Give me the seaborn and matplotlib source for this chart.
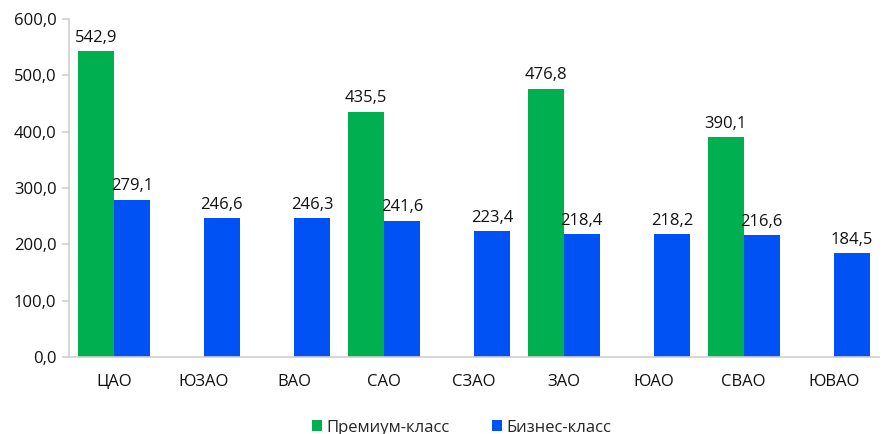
import numpy as np
import pandas as pd
import matplotlib
matplotlib.use("Agg")
import matplotlib.pyplot as plt
import seaborn as sns

districts = ["ЦАО", "ЮЗАО", "ВАО", "САО", "СЗАО", "ЗАО", "ЮАО", "СВАО", "ЮВАО"]
premium = [542.9, np.nan, np.nan, 435.5, np.nan, 476.8, np.nan, 390.1, np.nan]
business = [279.1, 246.6, 246.3, 241.6, 223.4, 218.4, 218.2, 216.6, 184.5]
series = ["Премиум-класс", "Бизнес-класс"]
colors = ["#00B050", "#0052F5"]

df = pd.DataFrame({
    "district": districts * 2,
    "series": [series[0]] * len(districts) + [series[1]] * len(districts),
    "value": premium + business,
})

sns.set_theme(style="white")
plt.rcParams["font.family"] = ["Open Sans", "DejaVu Sans"]

fig = plt.figure(figsize=(8.84, 4.34), dpi=100)
ax = fig.add_axes([0.078, 0.177, 0.916, 0.779])

sns.barplot(data=df, x="district", y="value", hue="series", order=districts,
            hue_order=series, palette=colors, width=0.8, saturation=1,
            edgecolor="none", ax=ax)

fs = 12
fmt = lambda v: f"{v:.1f}".replace(".", ",")
for cont in ax.containers:
    labels = [fmt(b.get_height()) if not np.isnan(b.get_height()) else "" for b in cont]
    ax.bar_label(cont, labels=labels, padding=4, fontsize=fs, color="#111111")

ax.set_ylim(0, 600)
ax.set_yticks(range(0, 601, 100))
ax.set_yticklabels([fmt(v) for v in range(0, 601, 100)], fontsize=fs, color="#111111")
ax.set_xlim(-0.5, len(districts) - 0.5)
ax.set_xticks(np.arange(len(districts)))
ax.set_xticklabels(districts, fontsize=fs, color="#111111")
ax.tick_params(axis="x", length=0, pad=12)
ax.set_xticks(np.arange(len(districts) + 1) - 0.5, minor=True)
ax.tick_params(axis="x", which="minor", length=5, color="#d0d0d0", width=1.2)
ax.tick_params(axis="y", length=5, color="#d0d0d0", width=1.2, direction="out", left=True, pad=4)
ax.set_xlabel("")
ax.set_ylabel("")

for side in ["top", "right"]:
    ax.spines[side].set_visible(False)
for side in ["left", "bottom"]:
    ax.spines[side].set_color("#d0d0d0")
    ax.spines[side].set_linewidth(1.2)

ax.legend(loc="upper center", bbox_to_anchor=(0.485, -0.14), ncol=2, frameon=False,
          fontsize=fs, handlelength=0.6, handleheight=0.6, columnspacing=2.5,
          handletextpad=0.3)

fig.savefig("out.png", dpi=100)
